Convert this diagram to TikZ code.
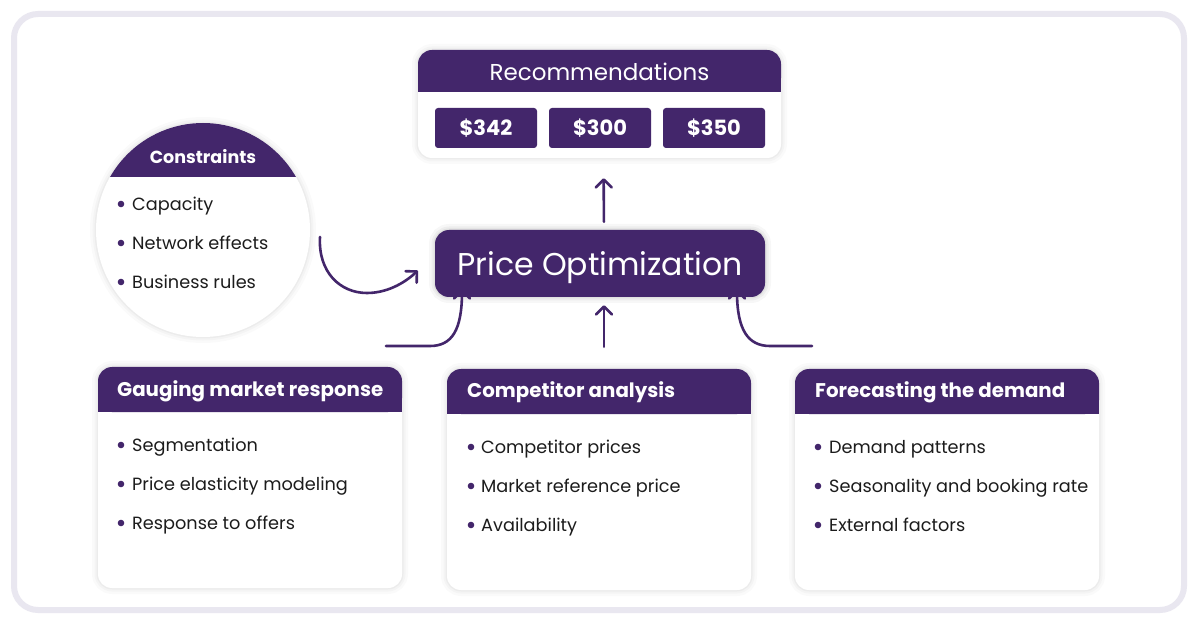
\documentclass[tikz,border=0pt]{standalone}
\usepackage{fontspec}
\setmainfont{Poppins}
\usetikzlibrary{arrows.meta,calc}
\definecolor{pp}{HTML}{43266B}
\definecolor{framec}{HTML}{E9E7F0}
\definecolor{txt}{HTML}{1C1C1C}
\tikzset{
  softshadow/.style={
    preaction={draw=black, draw opacity=0.018, line width=12pt},
    preaction={draw=black, draw opacity=0.022, line width=7pt},
    preaction={draw=black, draw opacity=0.03, line width=3pt}},
  card/.style={fill=white, rounded corners=14pt, inner sep=0pt, softshadow},
  hdtext/.style={text=white, font=\fontsize{19.8}{22}\selectfont\bfseries, anchor=base west, inner sep=0pt},
  item/.style={text=txt, font=\fontsize{17.7}{20}\selectfont, anchor=base west, inner sep=0pt},
  dot/.style={fill=pp},
  arr/.style={draw=pp, line width=2.6pt, line cap=round, line join=round,
    -{Straight Barb[length=8pt, width=16pt, line width=2.6pt, round]}},
  pricebox/.style={fill=pp, rounded corners=3pt, minimum width=102pt, minimum height=40pt, inner sep=0pt,
    text=white, font=\fontsize{21}{24}\selectfont\bfseries},
}
\begin{document}
\begin{tikzpicture}[x=1pt,y=-1pt]
\useasboundingbox (0,0) rectangle (1200,628);
\fill[white] (0,0) rectangle (1200,628);
\draw[framec, line width=6pt, rounded corners=24pt, fill=white] (14,14) rectangle (1184,610);

% ---------- Recommendations ----------
\node[card, minimum width=363pt, minimum height=108pt] (rec) at (599.5,104) {};
\fill[pp, rounded corners=14pt] (418,50) rectangle (781,92);
\fill[pp] (418,75) rectangle (781,92);
\node[text=white, font=\fontsize{23}{25}\selectfont, inner sep=0pt] (rect) at (599.5,72) {Recommendations};
\node[pricebox] (p1) at (486,128) {\$342};
\node[pricebox] (p2) at (600,128) {\$300};
\node[pricebox] (p3) at (714,128) {\$350};

% ---------- Price Optimization ----------
\node[fill=pp, rounded corners=14pt, minimum width=330pt, minimum height=67pt, inner sep=0pt,
  text=white, font=\fontsize{31.5}{36}\selectfont, text depth=0pt,
  preaction={draw=black, draw opacity=0.03, line width=12pt},
  preaction={draw=black, draw opacity=0.04, line width=7pt},
  preaction={draw=black, draw opacity=0.05, line width=3pt}]
  (po) at (600,263.5) {Price Optimization};

% ---------- Constraints circle ----------
\node[circle, fill=white, minimum size=214pt, inner sep=0pt, softshadow] (cons) at (203,230) {};
\begin{scope}
  \clip (203,230) circle (107pt);
  \fill[pp] (90,110) rectangle (320,177);
\end{scope}
\node[text=white, font=\fontsize{17.5}{19}\selectfont\bfseries, inner sep=0pt] (const) at (203,157) {Constraints};
\foreach \n/\y/\t in {c1/204/Capacity, c2/243/Network effects, c3/282/Business rules}{
  \fill[dot] (121,\y) circle (3.3pt);
  \node[item] (\n) at (132,\y+6.5) {\t};
}

% ---------- Bottom cards ----------
% Gauging
\node[card, minimum width=304pt, minimum height=221pt] (gbox) at (250,477.5) {};
\fill[pp, rounded corners=14pt] (98,367) rectangle (402,412);
\fill[pp] (98,390) rectangle (402,412);
\node[hdtext] (gh) at (117,396) {Gauging market response};
\foreach \n/\y/\t in {g1/445/Segmentation, g2/484/Price elasticity modeling, g3/523/Response to offers}{
  \fill[dot] (121,\y) circle (3.3pt);
  \node[item] (\n) at (132,\y+6.5) {\t};
}
% Competitor
\node[card, minimum width=304pt, minimum height=221pt] (cbox) at (599,479.5) {};
\fill[pp, rounded corners=14pt] (447,369) rectangle (751,414);
\fill[pp] (447,392) rectangle (751,414);
\node[hdtext] (ch) at (467,398) {Competitor analysis};
\foreach \n/\y/\t in {k1/447/Competitor prices, k2/486/Market reference price, k3/525/Availability}{
  \fill[dot] (471,\y) circle (3.3pt);
  \node[item] (\n) at (481,\y+6.5) {\t};
}
% Forecasting
\node[card, minimum width=304pt, minimum height=221pt] (fbox) at (947,479.5) {};
\fill[pp, rounded corners=14pt] (795,369) rectangle (1099,414);
\fill[pp] (795,392) rectangle (1099,414);
\node[hdtext] (fh) at (815,398) {Forecasting the demand};
\foreach \n/\y/\t in {f1/447/Demand patterns, f2/486/Seasonality and booking rate, f3/525/External factors}{
  \fill[dot] (818,\y) circle (3.3pt);
  \node[item] (\n) at (829,\y+6.5) {\t};
}

% ---------- Connectors ----------
\draw[arr, shorten <=8pt, shorten >=20pt] ([xshift=4pt]po.north) -- ([xshift=4pt]rec.south);
\draw[arr, shorten <=22pt, shorten >=8pt] ([xshift=5pt]cbox.north) -- ([xshift=4pt]po.south);

\coordinate (ls) at (386,346);
\coordinate (rs) at (812,346);
\coordinate (cs) at (320,237);
\draw[arr] (ls) -- (430,346) .. controls (452,346) and (462,330) .. ([xshift=-138pt,yshift=8pt]po.south);
\draw[arr] (rs) -- (770,346) .. controls (748,346) and (737,330) .. ([xshift=137pt,yshift=8pt]po.south);
\draw[arr] (cs) .. controls (318,272) and (340,293) .. (367,293)
  .. controls (390,293) and (408,280) .. ([xshift=-17pt,yshift=-7pt]po.west);
\end{tikzpicture}
\end{document}
